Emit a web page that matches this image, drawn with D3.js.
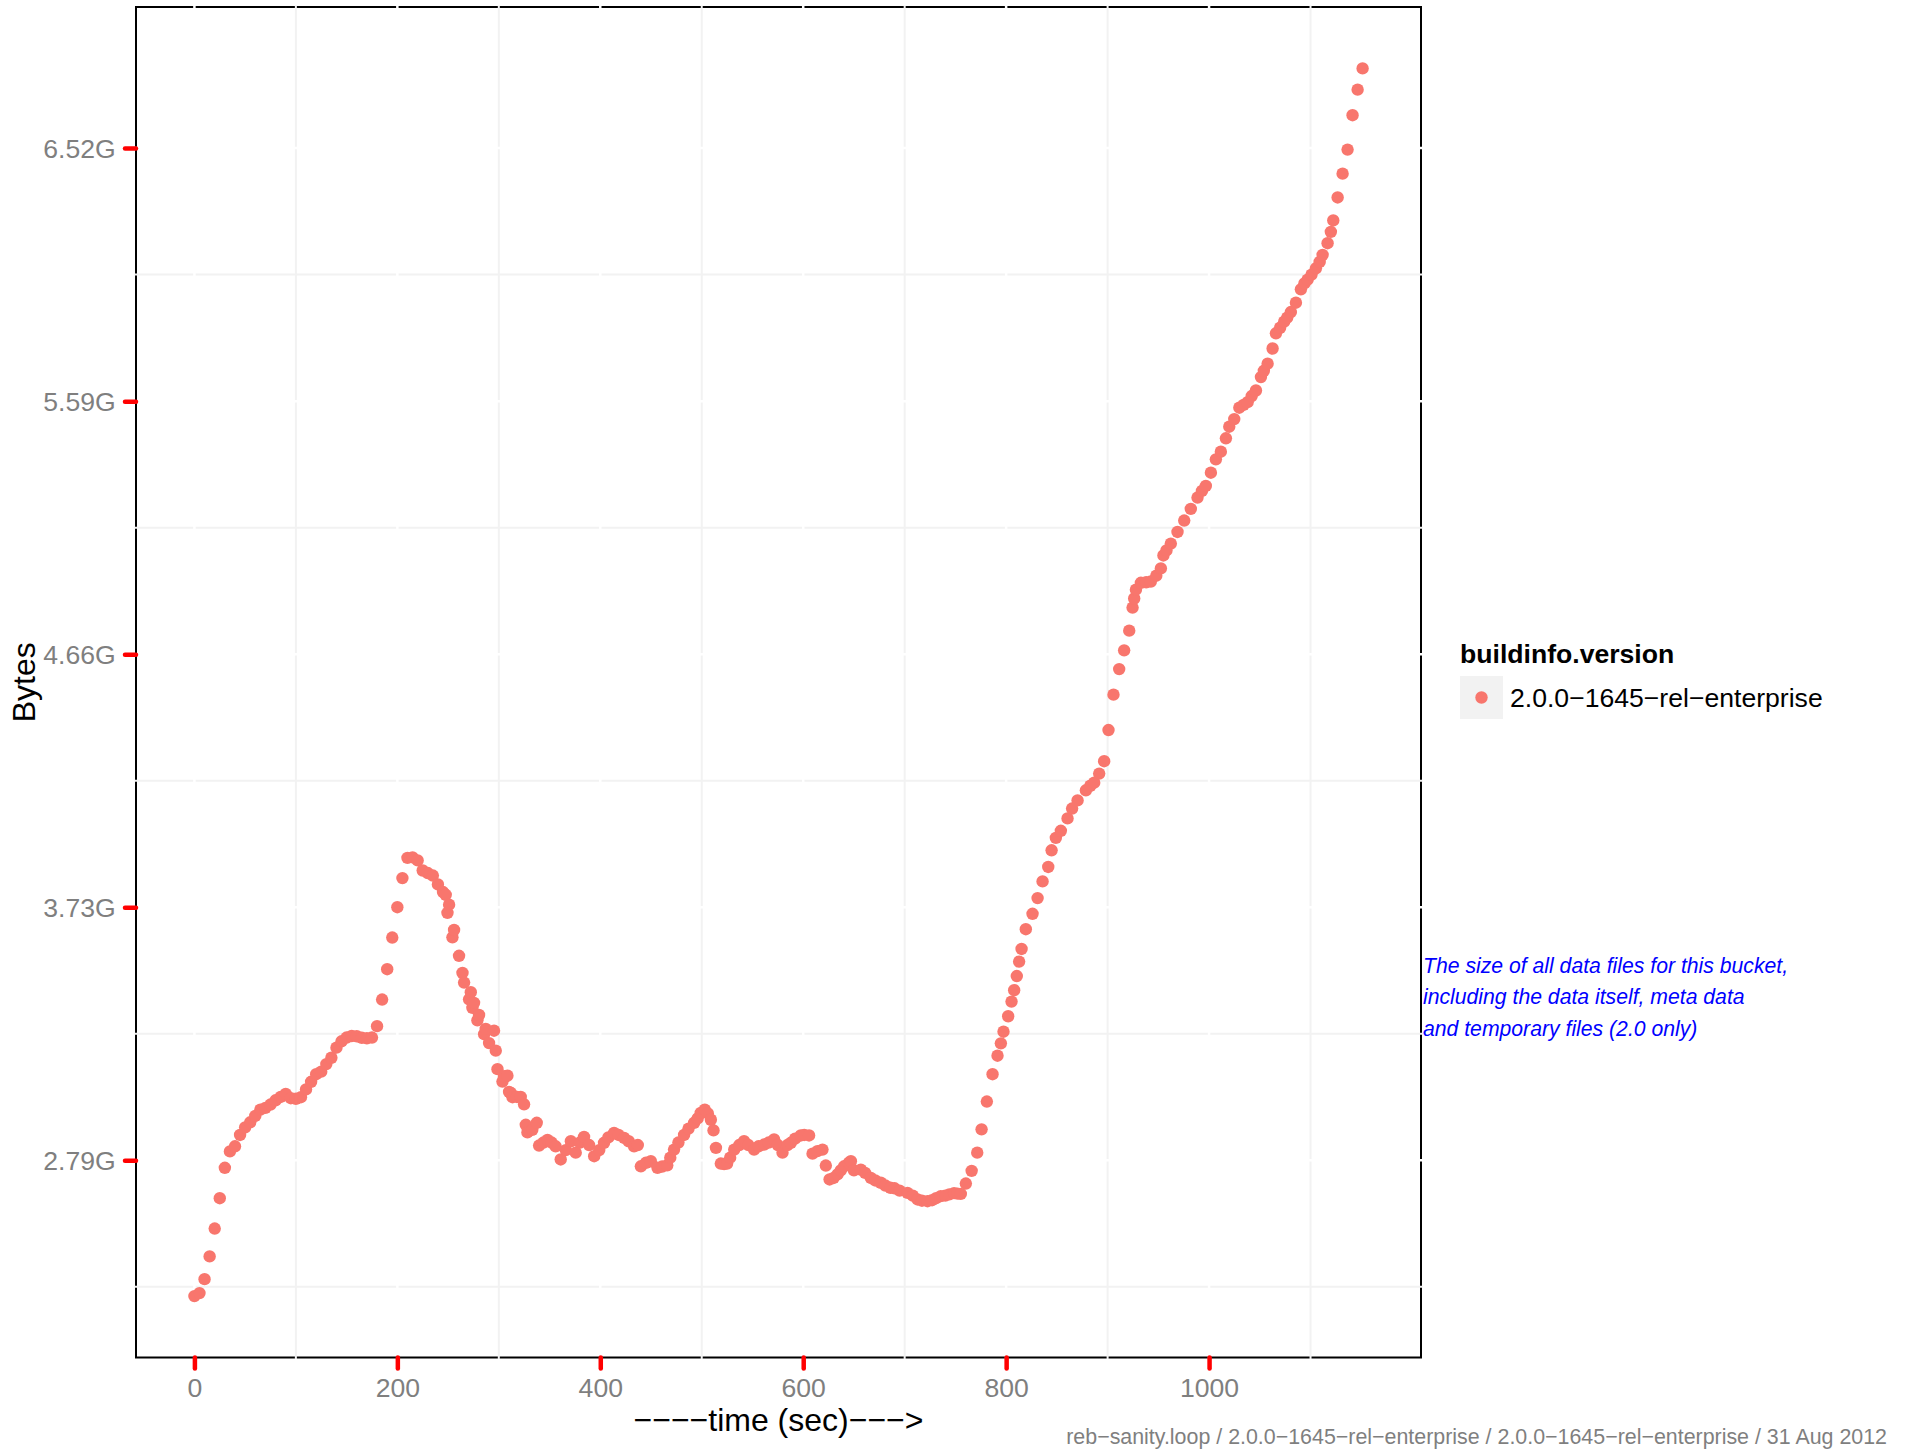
<!DOCTYPE html>
<html>
<head>
<meta charset="utf-8">
<script src="https://cdn.jsdelivr.net/npm/d3@7"></script>
<style>
  body { margin: 0; background: #ffffff; }
  svg { display: block; font-family: "Liberation Sans", Arial, Helvetica, sans-serif; }
</style>
</head>
<body>
<svg id="chart" width="1910" height="1449"></svg>
<script>
// Bucket data-file size over the run (seconds since start, size in 1e9 bytes)
const seconds = [
  0, 5, 10, 15, 20, 25, 30, 35, 40, 45, 50, 55, 60, 65, 70, 75, 80, 85, 90, 95,
  100, 105, 110, 115, 120, 125, 130, 135, 140, 145, 150, 155, 160, 165, 170, 175,
  180, 185, 190, 195, 200, 205, 210, 215, 220, 225, 230, 235, 240, 245,
  247.7, 249.4, 251, 254.3, 255.9, 260.8, 264.2, 265.8, 270.7, 272.4, 274, 275.6,
  278.9, 280.5, 285.5, 287.1, 290.4, 295.3, 297, 298.7, 303.6, 305.2, 308.5, 310.1,
  311.8, 313.5, 318, 321.6, 324.9, 326.6, 328.2, 333, 337.4, 339.7, 344, 348, 352,
  356, 361, 366, 371, 375.8, 380, 384, 389, 394, 399, 403.7, 408, 413.6, 418, 423.5,
  428, 433.3, 437, 440, 445, 449.8, 456.4, 461, 466, 469, 472.7, 477, 482.6, 487,
  492.5, 496, 499, 503, 506, 509, 511.6, 514, 518.8, 522, 525, 528, 532, 537, 541.7,
  546, 551.6, 556, 561.5, 566, 571.3, 575, 579.6, 584.5, 587.8, 592, 597.6, 601,
  605.8, 609.2, 614, 619, 622.3, 626, 630, 633.8, 637, 640.3, 645, 647, 650, 656.8,
  661, 666.6, 671, 676.5, 681, 686, 690, 695, 702.8, 708, 712.7, 717, 722.5, 727,
  731, 735.6, 740, 744, 748.7, 752, 755.3, 760.3, 766, 771.5, 775.8, 781, 786.6,
  791.5, 794.8, 797.4, 802, 805.3, 807.9, 810.5, 812.8, 815.2, 819.4, 826, 831,
  835.9, 841.5, 844.8, 849, 853.9, 860.5, 865, 870.4, 878.6, 883, 886.8, 891.7,
  896.6, 900.9, 905.8, 911.4, 916.3, 921.3, 924.6, 926.2, 927.9, 932.8, 938, 942.6,
  948, 952.5, 955, 958, 962.3, 968.9, 975.5, 982, 988.6, 993, 996.8, 1001.8, 1006.7,
  1011.6, 1016.6, 1019.9, 1024.8, 1029.8, 1034, 1038, 1042, 1046.2, 1051.1, 1054,
  1057.7, 1062.6, 1065.9, 1070, 1074, 1077, 1080.6, 1085.6, 1090.5, 1094, 1097.1,
  1101, 1105.3, 1109, 1111.9, 1116.8, 1120, 1122.4, 1126.7, 1131.6, 1136.5, 1141.4,
  1146.4, 1151.3
];
const gigabytes = [
  2.463, 2.475, 2.53, 2.62, 2.73, 2.85, 2.97, 3.035, 3.055, 3.10, 3.13, 3.15, 3.175, 3.20, 3.207, 3.22, 3.237, 3.25, 3.262, 3.245,
  3.243, 3.249, 3.28, 3.31, 3.34, 3.35, 3.38, 3.405, 3.445, 3.47, 3.485, 3.491, 3.49, 3.484, 3.482, 3.485,
  3.53, 3.635, 3.755, 3.88, 4.0, 4.115, 4.195, 4.197, 4.185, 4.145, 4.135, 4.125, 4.09, 4.06,
  4.049, 3.978, 4.01, 3.881, 3.91, 3.808, 3.74, 3.702, 3.636, 3.664, 3.602, 3.622,
  3.553, 3.574, 3.498, 3.519, 3.463, 3.512, 3.433, 3.36, 3.311, 3.332, 3.334, 3.27,
  3.266, 3.249, 3.25, 3.25, 3.221, 3.14, 3.11, 3.12, 3.148, 3.058, 3.07, 3.08, 3.07,
  3.055, 3.003, 3.04, 3.075, 3.03, 3.07, 3.092, 3.06, 3.016, 3.04, 3.069, 3.09, 3.108, 3.10, 3.088,
  3.075, 3.055, 3.06, 2.976, 2.99, 2.996, 2.97, 2.975, 2.98, 3.01, 3.042, 3.07, 3.10, 3.125,
  3.148, 3.165, 3.187, 3.20, 3.185, 3.16, 3.118, 3.049, 2.987, 2.985, 2.987, 3.01, 3.042, 3.06, 3.075,
  3.06, 3.042, 3.055, 3.062, 3.07, 3.082, 3.06, 3.03, 3.06, 3.069, 3.085, 3.098, 3.10,
  3.098, 3.026, 3.036, 3.042, 2.979, 2.924, 2.93, 2.944, 2.96, 2.976, 2.99, 2.996, 2.96, 2.963,
  2.95, 2.93, 2.92, 2.911, 2.90, 2.891, 2.889, 2.88, 2.871, 2.86, 2.845, 2.84, 2.838, 2.842,
  2.85, 2.858, 2.86, 2.865, 2.87, 2.868, 2.867, 2.908, 2.958, 3.03, 3.122, 3.232, 3.34,
  3.413, 3.462, 3.508, 3.569, 3.627, 3.672, 3.728, 3.785, 3.835, 3.913, 3.974, 4.036,
  4.102, 4.159, 4.225, 4.274, 4.302, 4.351, 4.39, 4.422, 4.462, 4.48, 4.492, 4.528,
  4.577, 4.70, 4.84, 4.941, 5.015, 5.093, 5.184, 5.22, 5.255, 5.282, 5.284, 5.287,
  5.31, 5.339, 5.39, 5.41, 5.437, 5.483, 5.528, 5.574, 5.619, 5.645, 5.665, 5.717, 5.77,
  5.80, 5.853, 5.899, 5.929, 5.974, 5.985, 5.996, 6.02, 6.042, 6.095, 6.12,
  6.148, 6.208, 6.268, 6.29, 6.314, 6.33, 6.352, 6.389, 6.442, 6.465, 6.48,
  6.50, 6.525, 6.55, 6.578, 6.624, 6.669, 6.714, 6.805, 6.899, 6.994, 7.13,
  7.231, 7.315
];

// Axis breaks
const xTicks = [0, 200, 400, 600, 800, 1000];
const xMinorBreaks = [100, 300, 500, 700, 900, 1100];
const yTicks = [3e9, 4e9, 5e9, 6e9, 7e9];
const yTickLabels = ["2.79G", "3.73G", "4.66G", "5.59G", "6.52G"];
const yMinorBreaks = [2.5e9, 3.5e9, 4.5e9, 5.5e9, 6.5e9];

// Text content
const seriesName = "2.0.0\u22121645\u2212rel\u2212enterprise";
const legendTitle = "buildinfo.version";
const xTitle = "\u2212\u2212\u2212\u2212time (sec)\u2212\u2212\u2212>";
const yTitle = "Bytes";
const noteLines = [
  "The size of all data files for this bucket,",
  "including the data itself, meta data",
  "and temporary files (2.0 only)"
];
const caption = "reb\u2212sanity.loop / 2.0.0\u22121645\u2212rel\u2212enterprise / 2.0.0\u22121645\u2212rel\u2212enterprise / 31 Aug 2012";

const pointColour = "#F8766D";
const tickColour = "#FF0000";
const labelGrey = "#7F7F7F";
const pointRadius = 6.2;
const smallText = 26.6;

const points = seconds.map((t, i) => ({ t: t, bytes: gigabytes[i] * 1e9 }));

const svg = d3.select("#chart");
const panel = { left: 136, right: 1421, top: 7, bottom: 1357.5 };

// Linear scales with 5% padding on each side of the data range
function padded(extent) {
  const pad = (extent[1] - extent[0]) * 0.05;
  return [extent[0] - pad, extent[1] + pad];
}
const x = d3.scaleLinear()
  .domain(padded(d3.extent(points, d => d.t)))
  .range([panel.left, panel.right]);
const y = d3.scaleLinear()
  .domain(padded(d3.extent(points, d => d.bytes)))
  .range([panel.bottom, panel.top]);

// Panel background with its outline
svg.append("rect")
  .attr("x", panel.left).attr("y", panel.top)
  .attr("width", panel.right - panel.left)
  .attr("height", panel.bottom - panel.top)
  .attr("fill", "#ffffff")
  .attr("stroke", "#000000")
  .attr("stroke-width", 2);

// Grid: minor lines in light grey, major lines in white on top
const ext = 1.5;
const grid = svg.append("g").attr("class", "grid");
function gridLines(xs, ys, colour, width) {
  grid.selectAll(null).data(xs).enter().append("line")
    .attr("x1", d => x(d)).attr("x2", d => x(d))
    .attr("y1", panel.top - ext).attr("y2", panel.bottom + ext)
    .attr("stroke", colour).attr("stroke-width", width);
  grid.selectAll(null).data(ys).enter().append("line")
    .attr("y1", d => y(d)).attr("y2", d => y(d))
    .attr("x1", panel.left - ext).attr("x2", panel.right + ext)
    .attr("stroke", colour).attr("stroke-width", width);
}
gridLines(xMinorBreaks, yMinorBreaks, "#F2F2F2", 2);
gridLines(xTicks, yTicks, "#FFFFFF", 2.5);

// Points
svg.append("g").attr("class", "points")
  .selectAll("circle").data(points).enter().append("circle")
  .attr("cx", d => x(d.t))
  .attr("cy", d => y(d.bytes))
  .attr("r", pointRadius)
  .attr("fill", pointColour);

// Axes
const yAxis = d3.axisLeft(y)
  .tickValues(yTicks)
  .tickFormat((d, i) => yTickLabels[i])
  .tickSize(11).tickSizeOuter(0).tickPadding(9.3);
const gy = svg.append("g").attr("transform", `translate(${panel.left},0)`).call(yAxis);

const xAxis = d3.axisBottom(x)
  .tickValues(xTicks)
  .tickFormat(d3.format("d"))
  .tickSize(11).tickSizeOuter(0).tickPadding(9.3);
const gx = svg.append("g").attr("transform", `translate(0,${panel.bottom})`).call(xAxis);

[gx, gy].forEach(g => {
  g.select(".domain").remove();
  g.selectAll(".tick line")
    .attr("stroke", tickColour)
    .attr("stroke-width", 4.5)
    .attr("stroke-linecap", "round");
  g.selectAll(".tick text")
    .attr("fill", labelGrey)
    .attr("font-size", smallText)
    .attr("font-family", "'Liberation Sans', Arial, sans-serif");
});
gy.selectAll(".tick text").attr("dy", "0.36em");

// Axis titles
svg.append("text")
  .attr("x", (panel.left + panel.right) / 2)
  .attr("y", 1430.5)
  .attr("text-anchor", "middle")
  .attr("font-size", 32)
  .attr("fill", "#000000")
  .text(xTitle);

svg.append("text")
  .attr("transform", `translate(35,${(panel.top + panel.bottom) / 2}) rotate(-90)`)
  .attr("text-anchor", "middle")
  .attr("font-size", 32)
  .attr("fill", "#000000")
  .text(yTitle);

// Legend
const legend = svg.append("g").attr("transform", "translate(1460,0)");
legend.append("text")
  .attr("x", 0).attr("y", 663)
  .attr("font-size", smallText)
  .attr("font-weight", "bold")
  .attr("fill", "#000000")
  .text(legendTitle);
legend.append("rect")
  .attr("x", 0).attr("y", 676)
  .attr("width", 43).attr("height", 43)
  .attr("fill", "#F2F2F2");
legend.append("circle")
  .attr("cx", 21.5).attr("cy", 697.5)
  .attr("r", pointRadius)
  .attr("fill", pointColour);
legend.append("text")
  .attr("x", 50).attr("y", 707)
  .attr("font-size", smallText)
  .attr("fill", "#000000")
  .text(seriesName);

// Note beside the panel
svg.append("g").selectAll("text").data(noteLines).enter().append("text")
  .attr("x", 1423)
  .attr("y", (d, i) => 972.7 + i * 31.7)
  .attr("font-size", 21.2)
  .attr("font-style", "italic")
  .attr("fill", "#0000FF")
  .text(d => d);

// Caption
svg.append("text")
  .attr("x", 1887).attr("y", 1444)
  .attr("text-anchor", "end")
  .attr("font-size", 21.4)
  .attr("fill", labelGrey)
  .text(caption);
</script>
</body>
</html>
